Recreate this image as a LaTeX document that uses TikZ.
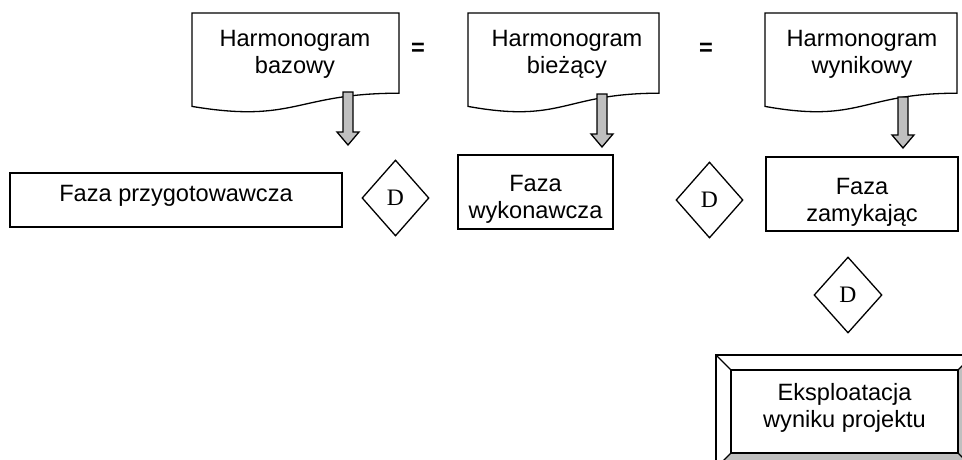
\documentclass[tikz,border=0pt]{standalone}
\usepackage{fontspec}
\setmainfont{Liberation Sans}
\newfontfamily\serifD{Liberation Serif}
\usetikzlibrary{shapes.geometric,calc}
\tikzset{
  ln/.style={line width=1.3pt},
  txt/.style={align=center,inner sep=0pt,font=\fontsize{23.6}{27}\selectfont},
  phasebox/.style={ln,draw,fill=white,inner sep=0pt},
  dec/.style={ln,draw,diamond,inner sep=0pt,minimum width=67pt,minimum height=76pt,font=\serifD\fontsize{23.6}{26}\selectfont},
  grayarrow/.style={ln,draw,fill=black!25},
  eqsign/.style={inner sep=0pt,font=\bfseries\fontsize{23.6}{27}\selectfont},
  bevlight/.style={fill=white},
  bevdark/.style={fill=black!25}
}
\newcommand\docshape[2]{%
  \draw[ln,fill=white] (#1,13) -- (#2,13) -- (#2,93.2)
    .. controls ({(#1+#2)/2},93.2) and ({(#1+#2)/2},123.7) .. (#1,106.4) -- cycle;}
\newcommand\blockarrow[2]{%
  \draw[grayarrow] ($(#1)+(-5,0)$) -- ($(#2)+(-5,-13)$) -- ($(#2)+(-11,-13)$) -- (#2)
    -- ($(#2)+(11,-13)$) -- ($(#2)+(5,-13)$) -- ($(#1)+(5,0)$) -- cycle;}
\begin{document}
\begin{tikzpicture}[x=1pt,y=-1pt]
\useasboundingbox (0,0) rectangle (962,459);
\clip (0,0) rectangle (962,459);

% documents
\docshape{192}{399}
\docshape{468}{659}
\docshape{765}{957}
\node[txt] (d1) at (295,54.5) {Harmonogram\\bazowy};
\node[txt] (d2) at (567,54.5) {Harmonogram\\bieżący};
\node[txt] (d3) at (862,54.5) {Harmonogram\\wynikowy};

% equals signs
\node[eqsign] (eq1) at (418,49) {=};
\node[eqsign] (eq2) at (706,49) {=};

% block arrows
\coordinate (a1s) at (348,92);  \coordinate (a1e) at (348,145);
\coordinate (a2s) at (602,94);  \coordinate (a2e) at (602,147);
\coordinate (a3s) at (903,97);  \coordinate (a3e) at (903,148);
\blockarrow{a1s}{a1e}
\blockarrow{a2s}{a2e}
\blockarrow{a3s}{a3e}

% phase boxes
\draw[phasebox] (10,173) rectangle (342,227);
\node[txt] (b1) at (176,196) {Faza przygotowawcza};
\draw[phasebox] (458,155) rectangle (613,229);
\node[txt] (b2) at (535.5,199.5) {Faza\\wykonawcza};
\draw[phasebox] (766,157) rectangle (958,231);
\node[txt] (b3) at (862,202.5) {Faza\\zamykając};

% decisions
\node[dec] (D1) at (395.5,198) {D};
\node[dec] (D2) at (709.5,200) {D};
\node[dec,minimum width=68pt] (D3) at (848,295) {D};

% bevel box
\coordinate (o1) at (716,355); \coordinate (o2) at (973,355);
\coordinate (o3) at (973,468); \coordinate (o4) at (716,468);
\coordinate (i1) at (731,370); \coordinate (i2) at (958,370);
\coordinate (i3) at (958,453); \coordinate (i4) at (731,453);
\fill[bevlight] (o1) -- (o2) -- (i2) -- (i1) -- cycle;
\fill[bevlight] (o1) -- (i1) -- (i4) -- (o4) -- cycle;
\fill[bevdark] (o2) -- (o3) -- (i3) -- (i2) -- cycle;
\fill[bevdark] (o4) -- (i4) -- (i3) -- (o3) -- cycle;
\fill[white] (i1) rectangle (i3);
\draw[ln] (o1) rectangle (o3);
\draw[ln] (i1) rectangle (i3);
\draw[ln] (o1) -- (i1) (o2) -- (i2) (o3) -- (i3) (o4) -- (i4);
\node[txt] (e1) at (844.5,407.5) {Eksploatacja\\wyniku projektu};
\end{tikzpicture}
\end{document}
